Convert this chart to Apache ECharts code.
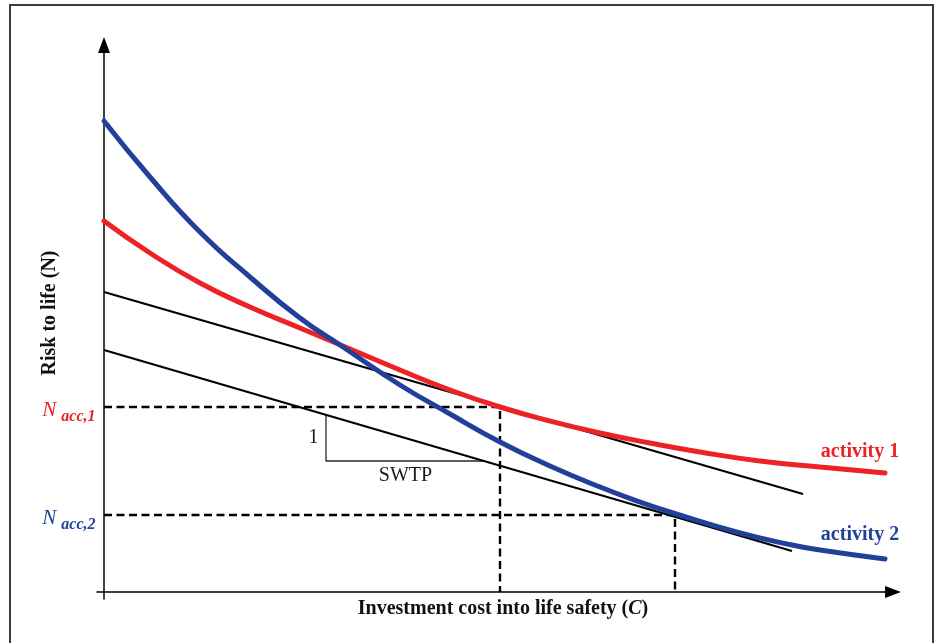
<!DOCTYPE html>
<html>
<head>
<meta charset="utf-8">
<script src="https://cdn.jsdelivr.net/npm/echarts@6/dist/echarts.min.js"></script>
<style>
  html, body { margin: 0; padding: 0; background: #fff; overflow: hidden; }
  #wrap { position: relative; width: 938px; height: 643px; overflow: hidden; }
  #chart { position: absolute; left: 0; top: 0; width: 938px; height: 643px; }
  #frame { position: absolute; left: 9px; top: 4px; width: 925px; height: 700px;
           border: 2px solid #3c3c3c; box-sizing: border-box; pointer-events: none; }
</style>
</head>
<body>
<div id="wrap">
  <div id="chart"></div>
  <div id="frame"></div>
</div>
<script>
// Investment cost into life safety (C) and the resulting risk to life (N), activity 1
const activity1Cost = [0, 46, 96, 146, 196, 239, 296, 346, 396, 446, 496, 546, 596, 656, 716, 781];
const activity1Risk = [371, 339, 309, 285, 264, 246, 222, 202, 185, 171, 159, 149, 140, 131, 125, 119];

// Activity 2
const activity2Cost = [0, 46, 96, 146, 196, 239, 296, 346, 396, 446, 496, 536, 569, 636, 688, 716, 781];
const activity2Risk = [471, 415, 360, 315, 274, 245, 207, 178, 150, 126, 105, 90, 79, 59, 47, 42, 33];

// Lines of constant societal willingness to pay (same slope), tangent to each curve
const swtpLine1Cost = [0, 699];
const swtpLine1Risk = [300, 98];
const swtpLine2Cost = [0, 688];
const swtpLine2Risk = [242, 41];

// Acceptable risk levels and the corresponding optimal investments
const nAcc = [185, 77];
const cOpt = [396, 571];
const nAccText = ['acc,1', 'acc,2'];

// Slope triangle drawn on the lower SWTP line: "1" unit of risk per "SWTP" of cost
const slopeTriCost = [222, 222, 381];
const slopeTriRisk = [177, 131, 131];

const activityNames = ['activity 1', 'activity 2'];

const serif = '"Liberation Serif", "Times New Roman", serif';
const red = '#ec2227';
const blue = '#21409a';

const pairs = (xs, ys) => xs.map((x, i) => [x, ys[i]]);
const last = arr => arr[arr.length - 1];

const chart = echarts.init(document.getElementById('chart'));

function accLabel(i, color) {
  return {
    show: true,
    position: 'left',
    distance: 8,
    offset: [0, 3],
    formatter: '{n|N}{s|' + nAccText[i] + '}',
    rich: {
      n: { fontFamily: serif, fontStyle: 'italic', fontSize: 21, lineHeight: 20,
           verticalAlign: 'top', color: color },
      s: { fontFamily: serif, fontStyle: 'italic', fontWeight: 'bold', fontSize: 16,
           lineHeight: 16, padding: [9, 0, 0, 5], verticalAlign: 'top', color: color }
    }
  };
}

const noteData = [
  {
    value: [last(activity1Cost), last(activity1Risk)],
    label: { show: true, position: 'top', offset: [-25, -6], formatter: activityNames[0],
             color: red, fontFamily: serif, fontWeight: 'bold', fontSize: 20 }
  },
  {
    value: [last(activity2Cost), last(activity2Risk)],
    label: { show: true, position: 'top', offset: [-25, -9], formatter: activityNames[1],
             color: blue, fontFamily: serif, fontWeight: 'bold', fontSize: 20 }
  },
  { value: [0, nAcc[0]], label: accLabel(0, red) },
  { value: [0, nAcc[1]], label: accLabel(1, blue) },
  {
    value: [slopeTriCost[0], (slopeTriRisk[0] + slopeTriRisk[1]) / 2],
    label: { show: true, position: 'left', distance: 7, formatter: '1',
             color: '#1a1a1a', fontFamily: serif, fontSize: 20 }
  },
  {
    value: [(slopeTriCost[1] + slopeTriCost[2]) / 2, slopeTriRisk[1]],
    label: { show: true, position: 'bottom', distance: 4, formatter: 'SWTP',
             color: '#1a1a1a', fontFamily: serif, fontSize: 20 }
  }
];

const dashedStyle = { color: '#000', width: 2.4, type: [8, 4.5] };

const option = {
  animation: false,
  backgroundColor: '#fff',
  grid: { left: 97, right: 45, top: 45, bottom: 44 },
  xAxis: {
    type: 'value', min: -7, max: 789,
    axisLine: { onZero: true, symbol: ['none', 'triangle'], symbolSize: [12, 16],
                lineStyle: { color: '#000', width: 1.5 } },
    axisTick: { show: false }, axisLabel: { show: false }, splitLine: { show: false },
    name: 'Investment cost into life safety ({i|C})',
    nameLocation: 'middle', nameGap: 0,
    nameTextStyle: {
      fontFamily: serif, fontWeight: 'bold', fontSize: 20, color: '#111',
      verticalAlign: 'top', padding: [0, 0, 0, 16],
      rich: { i: { fontFamily: serif, fontWeight: 'bold', fontStyle: 'italic',
                   fontSize: 20, color: '#111' } }
    }
  },
  yAxis: {
    type: 'value', min: -7, max: 547,
    axisLine: { onZero: true, symbol: ['none', 'triangle'], symbolSize: [12, 16],
                lineStyle: { color: '#000', width: 1.5 } },
    axisTick: { show: false }, axisLabel: { show: false }, splitLine: { show: false },
    name: 'Risk to life (N)',
    nameLocation: 'middle', nameGap: 37, nameRotate: 90,
    nameTextStyle: { fontFamily: serif, fontWeight: 'bold', fontSize: 20, color: '#111',
                     padding: [0, 0, 0, 18] }
  },
  series: [
    {
      type: 'line', silent: true, symbol: 'none',
      data: [[0, nAcc[0]], [cOpt[0], nAcc[0]], [cOpt[0], 0]],
      lineStyle: dashedStyle, z: 2
    },
    {
      type: 'line', silent: true, symbol: 'none',
      data: [[0, nAcc[1]], [cOpt[1], nAcc[1]], [cOpt[1], 0]],
      lineStyle: dashedStyle, z: 2
    },
    {
      type: 'line', silent: true, symbol: 'none',
      data: pairs(slopeTriCost, slopeTriRisk),
      lineStyle: { color: '#2a2a2a', width: 1.3 }, z: 3
    },
    {
      type: 'line', silent: true, symbol: 'none',
      data: pairs(swtpLine1Cost, swtpLine1Risk),
      lineStyle: { color: '#000', width: 2.2 }, z: 4
    },
    {
      type: 'line', silent: true, symbol: 'none',
      data: pairs(swtpLine2Cost, swtpLine2Risk),
      lineStyle: { color: '#000', width: 2.2 }, z: 4
    },
    {
      name: activityNames[0],
      type: 'line', silent: true, symbol: 'none', smooth: 0.5,
      data: pairs(activity1Cost, activity1Risk),
      lineStyle: { color: red, width: 5, cap: 'round' }, z: 5
    },
    {
      name: activityNames[1],
      type: 'line', silent: true, symbol: 'none', smooth: 0.5,
      data: pairs(activity2Cost, activity2Risk),
      lineStyle: { color: blue, width: 5, cap: 'round' }, z: 6
    },
    {
      type: 'scatter', silent: true, symbolSize: 1,
      itemStyle: { color: 'rgba(0,0,0,0)', opacity: 1 },
      data: noteData, z: 10
    }
  ]
};

chart.setOption(option);
</script>
</body>
</html>
